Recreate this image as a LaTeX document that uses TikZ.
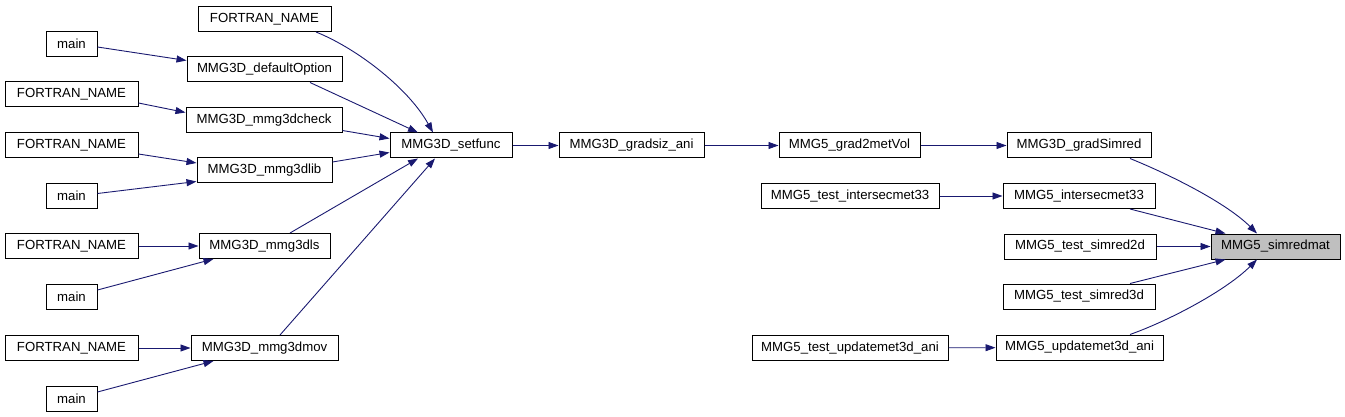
\documentclass[tikz,border=0pt]{standalone}
\usepackage{fontspec}
\setmainfont{Liberation Sans}
\usetikzlibrary{arrows.meta}
\definecolor{edgeblue}{HTML}{191970}
\definecolor{hl}{HTML}{BFBFBF}
\tikzset{
  fn/.style={draw=black, line width=1pt, fill=white, inner sep=0pt, minimum height=25pt,
    font=\fontsize{13.2}{15}\selectfont, anchor=center},
  cur/.style={fn, fill=hl},
  call/.style={draw=edgeblue, line width=0.9pt, -{Triangle[length=10pt,width=7pt]}}
}
\begin{document}
\begin{tikzpicture}[x=1pt,y=-1pt]
\useasboundingbox (0,0) rectangle (1345,417);
% nodes
\node[fn, minimum width=133pt] (f1) at (264.5,19) {FORTRAN\_NAME};
\node[fn, minimum width=51pt] (m1) at (71.5,44) {main};
\node[fn, minimum width=155pt] (dop) at (264.5,69.5) {MMG3D\_defaultOption};
\node[fn, minimum width=133pt] (f2) at (71.5,94.5) {FORTRAN\_NAME};
\node[fn, minimum width=156pt] (chk) at (264,120) {MMG3D\_mmg3dcheck};
\node[fn, minimum width=133pt] (f3) at (71.5,145.5) {FORTRAN\_NAME};
\node[fn, minimum width=135pt] (lib) at (264.5,170.5) {MMG3D\_mmg3dlib};
\node[fn, minimum width=51pt] (m2) at (71.5,196) {main};
\node[fn, minimum width=133pt] (f4) at (71.5,246) {FORTRAN\_NAME};
\node[fn, minimum width=131pt] (ls) at (264.5,246) {MMG3D\_mmg3dls};
\node[fn, minimum width=51pt] (m3) at (71.5,297) {main};
\node[fn, minimum width=133pt] (f5) at (71.5,348) {FORTRAN\_NAME};
\node[fn, minimum width=147pt] (mov) at (264.5,348) {MMG3D\_mmg3dmov};
\node[fn, minimum width=51pt] (m4) at (71.5,398.5) {main};
\node[fn, minimum width=122pt] (setf) at (451,145.5) {MMG3D\_setfunc};
\node[fn, minimum width=145pt] (gsa) at (631.5,145.5) {MMG3D\_gradsiz\_ani};
\node[fn, minimum width=141pt] (g2m) at (849.5,145.5) {MMG5\_grad2metVol};
\node[fn, minimum width=144pt] (gsr) at (1079,145.5) {MMG3D\_gradSimred};
\node[fn, minimum width=178pt] (tim) at (850,196) {MMG5\_test\_intersecmet33};
\node[fn, minimum width=152pt] (im) at (1079,196) {MMG5\_intersecmet33};
\node[cur, minimum width=129pt] (sm) at (1275.5,246.5) {MMG5\_simredmat};
\node[fn, minimum width=152pt] (ts2) at (1080,246.5) {MMG5\_test\_simred2d};
\node[fn, minimum width=152pt] (ts3) at (1079,296.5) {MMG5\_test\_simred3d};
\node[fn, minimum width=196pt] (tu) at (850,348) {MMG5\_test\_updatemet3d\_ani};
\node[fn, minimum width=167pt] (u) at (1079.5,347.5) {MMG5\_updatemet3d\_ani};
% edges into setfunc
\draw[call] ([xshift=51.5pt]f1.south) .. controls +(40,16) and +(-25,-45) .. ([xshift=-18pt]setf.north);
\draw[call] ([xshift=45.5pt]dop.south) -- ([xshift=-33pt]setf.north);
\draw[call] ([yshift=-10.5pt]chk.east) -- ([yshift=7pt]setf.west);
\draw[call] ([yshift=8.5pt]lib.east) -- ([yshift=-7pt]setf.west);
\draw[call] ([xshift=25.5pt]ls.north) -- ([xshift=-33pt]setf.south);
\draw[call] ([xshift=15.5pt]mov.north) -- ([xshift=-16pt]setf.south);
% left callers
\draw[call] ([yshift=-3pt]m1.east) -- ([yshift=9pt]dop.west);
\draw[call] ([yshift=-8.5pt]f2.east) -- ([yshift=7.5pt]chk.west);
\draw[call] ([yshift=-8.5pt]f3.east) -- ([yshift=7.5pt]lib.west);
\draw[call] ([yshift=2.5pt]m2.east) -- ([yshift=-11pt]lib.west);
\draw[call] (f4) -- (ls);
\draw[call] ([yshift=7pt]m3.east) -- ([xshift=-51pt]ls.south);
\draw[call] (f5) -- (mov);
\draw[call] ([yshift=6.5pt]m4.east) -- ([xshift=-51pt]mov.south);
% main chain
\draw[call] (setf) -- (gsa);
\draw[call] (gsa) -- (g2m);
\draw[call] (g2m) -- (gsr);
\draw[call] (tim) -- (im);
\draw[call] (tu) -- (u);
% into simredmat
\draw[call] ([xshift=51pt]gsr.south) .. controls +(42,17) and +(-30,-30) .. ([xshift=-18.5pt]sm.north);
\draw[call] ([xshift=51pt]im.south) -- ([xshift=-50pt]sm.north);
\draw[call] (ts2) -- (sm);
\draw[call] ([xshift=51pt]ts3.north) -- ([xshift=-50pt]sm.south);
\draw[call] ([xshift=50.5pt]u.north) .. controls +(42,-15) and +(-30,30) .. ([xshift=-18.5pt]sm.south);
\end{tikzpicture}
\end{document}
